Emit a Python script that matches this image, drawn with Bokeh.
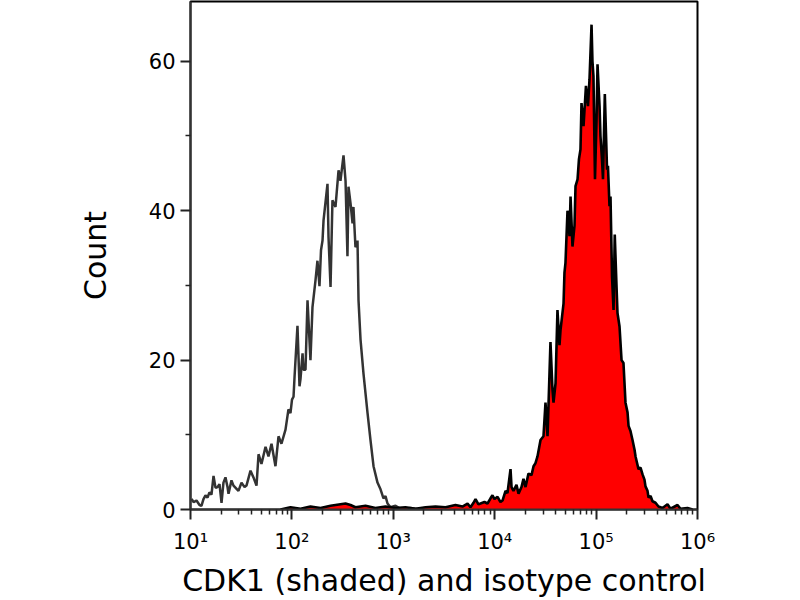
from bokeh.plotting import figure
from bokeh.models import Range1d, FixedTicker, CustomJSTickFormatter
from bokeh.embed import file_html
from bokeh.resources import INLINE
import numpy as np

# ---- data (log10 of fluorescence, counts) ----
iso_log10 = [1.010, 1.030, 1.059, 1.089, 1.108, 1.128, 1.148, 1.168, 1.187, 1.207,
             1.227, 1.247, 1.266, 1.286, 1.306, 1.325, 1.345, 1.365, 1.375, 1.404,
             1.424, 1.473, 1.503, 1.533, 1.552, 1.592, 1.621, 1.651, 1.671, 1.700,
             1.740, 1.769, 1.799, 1.838, 1.868, 1.897, 1.937, 1.966, 1.986, 2.001,
             2.016, 2.026, 2.055, 2.075, 2.085, 2.105, 2.114, 2.134, 2.154, 2.183,
             2.203, 2.233, 2.252, 2.272, 2.287, 2.302, 2.312, 2.351, 2.361, 2.381,
             2.400, 2.430, 2.460, 2.479, 2.509, 2.529, 2.548, 2.558, 2.578, 2.598,
             2.607, 2.627, 2.647, 2.657, 2.677, 2.706, 2.746, 2.775, 2.805, 2.844,
             2.874, 2.903, 2.923, 2.943, 2.972, 3.022, 3.071, 3.170, 3.268]
iso_count = [1.4, 1.0, 1.2, 0.6, 0.5, 1.4, 1.9, 1.6, 2.3, 2.0,
             4.5, 2.9, 3.0, 3.4, 0.9, 3.6, 4.3, 3.0, 2.1, 3.9,
             3.2, 2.5, 3.6, 3.0, 3.2, 5.2, 4.3, 3.2, 7.4, 6.1,
             8.4, 7.1, 8.8, 5.8, 9.8, 8.8, 10.7, 13.4, 12.9, 14.7,
             15.1, 17.7, 24.6, 16.5, 17.5, 20.9, 18.7, 18.7, 28.0, 20.0,
             27.1, 30.7, 33.3, 29.9, 34.7, 36.0, 38.7, 43.6, 36.5, 29.8,
             41.4, 40.5, 45.4, 44.0, 47.4, 44.0, 33.9, 43.2, 41.0, 38.3,
             40.5, 35.1, 36.0, 28.0, 22.7, 18.2, 12.9, 9.3, 5.8, 3.6,
             2.7, 1.5, 1.8, 0.8, 0.3, 0.5, 0.1, 0.2, 0.0]

cdk1_log10 = [1.888, 1.986, 2.085, 2.183, 2.282, 2.381, 2.479, 2.529, 2.578, 2.627,
              2.726, 2.824, 2.923, 3.022, 3.120, 3.219, 3.318, 3.416, 3.515, 3.613,
              3.682, 3.732, 3.761, 3.791, 3.811, 3.840, 3.860, 3.899, 3.929, 3.959,
              3.978, 3.998, 4.028, 4.057, 4.077, 4.107, 4.126, 4.156, 4.166, 4.185,
              4.215, 4.235, 4.264, 4.284, 4.304, 4.333, 4.363, 4.383, 4.402, 4.422,
              4.452, 4.481, 4.501, 4.521, 4.550, 4.570, 4.580, 4.600, 4.619, 4.639,
              4.649, 4.679, 4.688, 4.698, 4.718, 4.738, 4.748, 4.767, 4.787, 4.797,
              4.817, 4.831, 4.846, 4.856, 4.876, 4.900, 4.920, 4.935, 4.955, 4.964,
              4.974, 4.989, 5.004, 5.014, 5.034, 5.043, 5.058, 5.068, 5.086, 5.108,
              5.117, 5.132, 5.142, 5.157, 5.172, 5.184, 5.201, 5.211, 5.231, 5.251,
              5.270, 5.290, 5.310, 5.320, 5.339, 5.359, 5.379, 5.389, 5.408, 5.418,
              5.438, 5.458, 5.477, 5.487, 5.507, 5.517, 5.537, 5.556, 5.586, 5.615,
              5.655, 5.704, 5.734, 5.803, 5.832, 5.901, 5.951]
cdk1_count = [0.0, 0.3, 0.1, 0.4, 0.2, 0.5, 0.7, 0.8, 0.6, 0.3,
              0.5, 0.2, 0.4, 0.2, 0.3, 0.1, 0.3, 0.4, 0.3, 0.6,
              0.4, 0.8, 0.3, 0.9, 1.4, 0.7, 0.8, 1.0, 0.8, 1.5,
              1.9, 1.4, 1.7, 1.0, 1.2, 2.5, 2.2, 5.4, 3.0, 2.5,
              3.3, 2.1, 3.0, 4.1, 3.0, 4.8, 4.6, 5.8, 6.2, 7.1,
              9.3, 9.8, 14.3, 9.8, 22.4, 16.0, 14.3, 16.9, 26.7, 22.0,
              24.0, 27.6, 31.7, 33.0, 40.0, 36.6, 41.9, 35.2, 38.0, 43.3,
              44.2, 46.9, 48.2, 54.4, 51.3, 56.7, 54.0, 57.6, 64.9, 60.0,
              58.0, 44.2, 52.0, 59.6, 54.0, 50.0, 46.9, 44.2, 55.6, 45.5,
              46.0, 40.6, 41.9, 31.2, 26.7, 36.8, 30.0, 26.3, 24.5, 20.0,
              19.6, 14.3, 13.0, 11.2, 10.5, 9.3, 8.0, 7.1, 6.0, 5.4,
              5.6, 4.7, 4.0, 3.1, 2.5, 1.6, 1.8, 1.1, 0.9, 0.4,
              0.2, 0.7, 0.1, 0.6, 0.1, 0.2, 0.0]

y_major = [0, 20, 40, 60]
y_minor = [10, 30, 50]
x_major = [1e1, 1e2, 1e3, 1e4, 1e5, 1e6]
x_minor = [m * 10.0 ** k for k in range(1, 6) for m in range(2, 10)]

FONT = "DejaVu Sans"

iso_x = 10 ** np.array(iso_log10)
cdk_x = 10 ** np.array(cdk1_log10)

p = figure(frame_width=507, frame_height=508, x_axis_type="log",
           x_range=Range1d(10, 1e6), y_range=Range1d(0, 68.0),
           output_backend="svg", toolbar_location=None,
           min_border_left=190, min_border_right=95,
           min_border_top=1, min_border_bottom=88)

p.grid.visible = False
p.outline_line_color = "black"
p.outline_line_width = 2
p.background_fill_color = "white"
p.border_fill_color = "white"

p.line(iso_x, iso_count, line_color="#333333", line_width=2.5)
p.varea(x=cdk_x, y1=np.zeros(len(cdk1_count)), y2=cdk1_count, fill_color="#ff0000")
p.line(cdk_x, cdk1_count, line_color="black", line_width=2.6)

# x axis
p.xaxis.ticker = FixedTicker(ticks=x_major, minor_ticks=x_minor)
p.xaxis.formatter = CustomJSTickFormatter(code="""
const sup = {1:'\u00b9',2:'\u00b2',3:'\u00b3',4:'\u2074',5:'\u2075',6:'\u2076'};
return '10' + sup[Math.round(Math.log10(tick))];
""")
p.xaxis.axis_label = "CDK1 (shaded) and isotype control"

# y axis
p.yaxis.ticker = FixedTicker(ticks=y_major, minor_ticks=y_minor)
p.yaxis.axis_label = "Count"

for ax in (p.xaxis, p.yaxis):
    ax.axis_line_color = "#333333"
    ax.axis_line_width = 2
    ax.major_tick_line_color = "#222222"
    ax.major_tick_line_width = 2
    ax.minor_tick_line_color = "#222222"
    ax.minor_tick_line_width = 1.5
    ax.major_tick_out = 10
    ax.major_tick_in = 0
    ax.minor_tick_out = 5
    ax.minor_tick_in = 0
    ax.major_label_text_font = FONT
    ax.major_label_text_font_size = "21px"
    ax.major_label_text_color = "black"
    ax.axis_label_text_font = FONT
    ax.axis_label_text_font_size = "30px"
    ax.axis_label_text_font_style = "normal"
    ax.axis_label_text_color = "black"

p.xaxis.major_label_standoff = 10
p.xaxis.axis_label_standoff = 6
p.yaxis.major_label_standoff = 5
p.yaxis.axis_label_standoff = 33

open("out.html", "w").write(file_html(p, INLINE))
